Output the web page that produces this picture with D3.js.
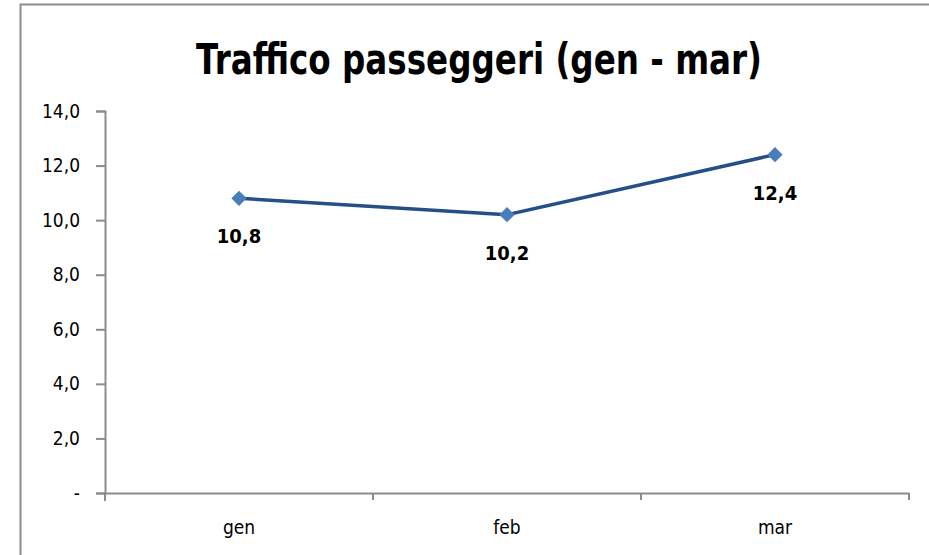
<!DOCTYPE html>
<html>
<head>
<meta charset="utf-8">
<script src="https://cdn.jsdelivr.net/npm/d3@7"></script>
<style>
  html, body { margin: 0; padding: 0; background: #fff; }
  svg { display: block; }
</style>
</head>
<body>
<div id="chart"></div>
<script>
// Chart data
var months = ["gen", "feb", "mar"];
var traffic = [10.8, 10.2, 12.4];
var yTicks = [0, 2, 4, 6, 8, 10, 12, 14];
var title = "Traffico passeggeri (gen - mar)";

var width = 929, height = 555;
var margin = { left: 105, right: 20, top: 111, bottom: 62 };

var svg = d3.select("#chart")
    .append("svg")
    .attr("width", width)
    .attr("height", height);

// Outer chart border (only top and left visible in frame)
svg.append("path")
    .attr("d", "M20.5," + height + "V4.5H" + width)
    .attr("fill", "none")
    .attr("stroke", "#8c8c8c")
    .attr("stroke-width", 2);

// Title
svg.append("text")
    .attr("x", 479)
    .attr("y", 74)
    .attr("text-anchor", "middle")
    .attr("textLength", 566)
    .attr("lengthAdjust", "spacingAndGlyphs")
    .style("font-family", "'DejaVu Sans', sans-serif")
    .style("font-weight", "bold")
    .style("font-size", "42px")
    .style("fill", "#000")
    .text(title);

// Scales
var x = d3.scaleBand()
    .domain(months)
    .range([margin.left, 909]);

var y = d3.scaleLinear()
    .domain([0, 14])
    .range([493, margin.top]);

var fmt = function(v) {
    return v === 0 ? "-" : d3.format(".1f")(v).replace(".", ",");
};

// Y axis
var yAxis = svg.append("g")
    .attr("transform", "translate(" + margin.left + ",0)")
    .call(d3.axisLeft(y).tickValues(yTicks).tickSize(9).tickPadding(16).tickFormat(fmt));

// X axis
var xAxis = svg.append("g")
    .attr("transform", "translate(0," + y(0) + ")")
    .call(d3.axisBottom(x).tickSize(0).tickPadding(28));

xAxis.selectAll(".tick")
    .append("line")
    .attr("x1", x.bandwidth() / 2)
    .attr("x2", x.bandwidth() / 2)
    .attr("y1", 0)
    .attr("y2", 7)
    .attr("stroke", "#8c8c8c")
    .attr("stroke-width", 1.5);

[yAxis, xAxis].forEach(function(ax) {
    ax.select(".domain").attr("stroke", "#8c8c8c").attr("stroke-width", 2);
    ax.selectAll(".tick line").attr("stroke", "#8c8c8c").attr("stroke-width", 2);
    ax.selectAll("text")
        .style("font-family", "'DejaVu Sans Condensed', 'DejaVu Sans', sans-serif")
        .style("font-size", "19px")
        .style("fill", "#000");
});

// Short tick below the y axis origin
svg.append("line")
    .attr("x1", margin.left).attr("x2", margin.left)
    .attr("y1", y(0)).attr("y2", y(0) + 8)
    .attr("stroke", "#8c8c8c").attr("stroke-width", 2);

var cx = function(d, i) { return x(months[i]) + x.bandwidth() / 2; };

// Line
var line = d3.line()
    .x(cx)
    .y(function(d) { return y(d); });

svg.append("path")
    .datum(traffic)
    .attr("d", line)
    .attr("fill", "none")
    .attr("stroke", "#254f86")
    .attr("stroke-width", 3.5);

// Diamond markers
var diamond = d3.symbol().type(d3.symbolDiamond2).size(150);

svg.selectAll(".marker")
    .data(traffic)
    .enter().append("path")
    .attr("class", "marker")
    .attr("d", diamond)
    .attr("transform", function(d, i) { return "translate(" + cx(d, i) + "," + y(d) + ")"; })
    .attr("fill", "#4a7ebb");

// Data labels
svg.selectAll(".label")
    .data(traffic)
    .enter().append("text")
    .attr("class", "label")
    .attr("x", cx)
    .attr("y", function(d) { return y(d) + 45; })
    .attr("text-anchor", "middle")
    .style("font-family", "'DejaVu Sans Condensed', 'DejaVu Sans', sans-serif")
    .style("font-weight", "bold")
    .style("font-size", "20px")
    .style("fill", "#000")
    .text(function(d) { return fmt(d); });
</script>
</body>
</html>
